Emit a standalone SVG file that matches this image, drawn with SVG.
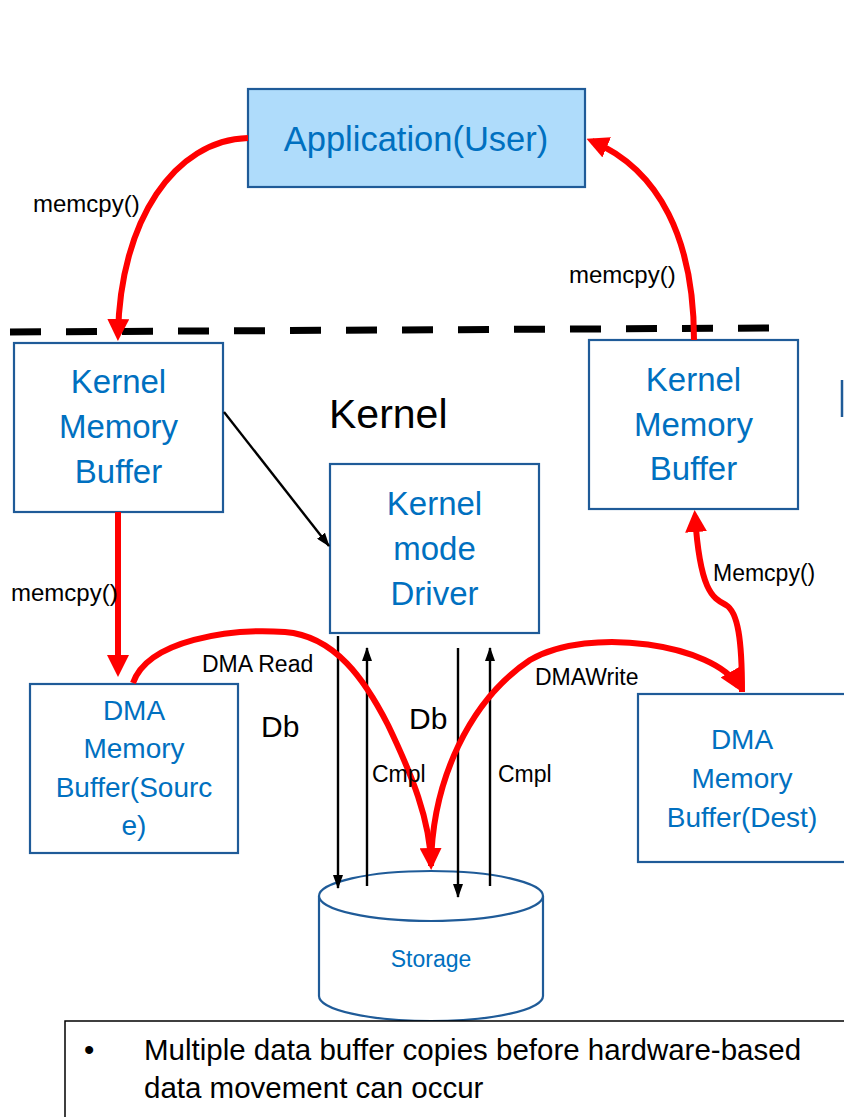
<svg xmlns="http://www.w3.org/2000/svg" width="844" height="1117" viewBox="0 0 844 1117">
<style>
.box{fill:#fff;stroke:#1F5B98;stroke-width:2.2}
.app{fill:#AFDCFB;stroke:#1F5B98;stroke-width:2.2}
.nt{font-family:"Liberation Sans",Arial,sans-serif;fill:#0070C0;text-anchor:middle}
.lb{font-family:"Liberation Sans",Arial,sans-serif;fill:#000}
.red{fill:none;stroke:#FF0000;stroke-width:6;stroke-linejoin:round}
.blk{fill:none;stroke:#000;stroke-width:2.4}
</style>
<defs>
<marker id="ra" markerUnits="userSpaceOnUse" viewBox="0 0 22 22" markerWidth="22" markerHeight="22" refX="16" refY="11" orient="auto">
<path d="M0,0 L22,11 L0,22 z" fill="#FF0000"/>
</marker>
<marker id="ba" markerUnits="userSpaceOnUse" viewBox="0 0 14 10" markerWidth="14" markerHeight="10" refX="13" refY="5" orient="auto">
<path d="M0,0 L14,5 L0,10 z" fill="#000"/>
</marker>
</defs>
<rect width="844" height="1117" fill="#fff"/>

<line x1="10" y1="332" x2="770" y2="328" stroke="#000" stroke-width="7" stroke-dasharray="31 25"/>

<g id="app">
<rect class="app" x="248" y="89" width="337" height="98"/>
<text class="nt" x="416" y="151" font-size="34.5">Application(User)</text>
</g>

<g id="kmb-left">
<rect class="box" x="14" y="343" width="209" height="169"/>
<text class="nt" font-size="33"><tspan x="118.5" y="393">Kernel</tspan><tspan x="118.5" y="438">Memory</tspan><tspan x="118.5" y="483">Buffer</tspan></text>
</g>

<g id="kmb-right">
<rect class="box" x="589" y="340" width="209" height="169"/>
<text class="nt" font-size="33"><tspan x="693.5" y="391">Kernel</tspan><tspan x="693.5" y="436">Memory</tspan><tspan x="693.5" y="480">Buffer</tspan></text>
</g>

<g id="kernel-label">
<text class="lb" x="329" y="428" font-size="41">Kernel</text>
</g>

<g id="driver">
<rect class="box" x="330" y="464" width="209" height="169"/>
<text class="nt" font-size="33"><tspan x="434.5" y="515">Kernel</tspan><tspan x="434.5" y="560">mode</tspan><tspan x="434.5" y="605">Driver</tspan></text>
</g>

<g id="dma-src">
<rect class="box" x="30" y="684" width="208" height="169"/>
<text class="nt" font-size="28"><tspan x="134" y="720">DMA</tspan><tspan x="134" y="758">Memory</tspan><tspan x="134" y="797">Buffer(Sourc</tspan><tspan x="134" y="835">e)</tspan></text>
</g>

<g id="dma-dest">
<rect class="box" x="638" y="694" width="209" height="168"/>
<text class="nt" font-size="28"><tspan x="742" y="749">DMA</tspan><tspan x="742" y="788">Memory</tspan><tspan x="742" y="827">Buffer(Dest)</tspan></text>
</g>

<g id="storage">
<path class="box" d="M319,896 L319,996 A112,25 0 0 0 543,996 L543,896"/>
<ellipse class="box" cx="431" cy="896" rx="112" ry="25"/>
<text class="nt" x="431" y="967" font-size="23">Storage</text>
</g>

<g id="edge-fragment">
<line x1="842" y1="380" x2="842" y2="417" stroke="#1F5B98" stroke-width="2.5"/>
</g>

<g id="connectors">
<path class="blk" d="M224,412 L329,546" marker-end="url(#ba)"/>
<path class="blk" d="M338,636 L338,888" marker-end="url(#ba)"/>
<path class="blk" d="M367,886 L367,648" marker-end="url(#ba)"/>
<path class="blk" d="M458,648 L458,897" marker-end="url(#ba)"/>
<path class="blk" d="M490,886 L490,648" marker-end="url(#ba)"/>

<path class="red" d="M248,138 C175,140 120,220 118,335" marker-end="url(#ra)"/>
<path class="red" d="M694,340 C694,240 660,170 592,141" marker-end="url(#ra)"/>
<path class="red" d="M118,512 L118,671" marker-end="url(#ra)"/>
<path class="red" d="M742,692 C742,640 738,612 726,605 C712,598 700,590 695,516" marker-end="url(#ra)"/>
<path class="red" d="M133,683 C148,640 230,628 285,632 C335,636 365,680 388,725 C412,775 430,820 431,864" marker-end="url(#ra)"/>
<path class="red" d="M431,866 C432,780 470,700 530,660 C590,625 715,645 738,686" marker-end="url(#ra)"/>
</g>

<g id="labels">
<text class="lb" x="33" y="212" font-size="24">memcpy()</text>
<text class="lb" x="569" y="283" font-size="24">memcpy()</text>
<text class="lb" x="11" y="601" font-size="24">memcpy()</text>
<text class="lb" x="713" y="581" font-size="23">Memcpy()</text>
<text class="lb" x="202" y="672" font-size="23">DMA Read</text>
<text class="lb" x="535" y="685" font-size="23">DMAWrite</text>
<text class="lb" x="261" y="737" font-size="30">Db</text>
<text class="lb" x="409" y="729" font-size="30">Db</text>
<text class="lb" x="372" y="782" font-size="23">Cmpl</text>
<text class="lb" x="498" y="782" font-size="23">Cmpl</text>
</g>

<g id="note">
<rect x="65" y="1021" width="800" height="120" fill="#fff" stroke="#000" stroke-width="1.5"/>
<text class="lb" x="84" y="1060" font-size="29.5">•</text>
<text class="lb" font-size="29.5"><tspan x="144" y="1060">Multiple data buffer copies before hardware-based</tspan><tspan x="144" y="1098">data movement can occur</tspan></text>
</g>
</svg>
